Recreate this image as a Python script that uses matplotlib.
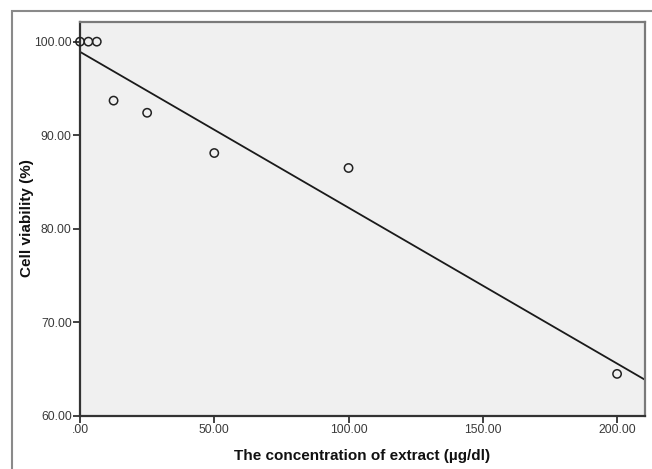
import numpy as np
import matplotlib
matplotlib.use("Agg")
import matplotlib.pyplot as plt
from matplotlib.patches import Rectangle

plt.rcParams['font.family'] = ['Liberation Sans', 'DejaVu Sans']

conc = [0, 3.125, 6.25, 12.5, 25, 50, 100, 200]
viability = [100.0, 100.0, 100.0, 93.7, 92.4, 88.1, 86.5, 64.5]
xticks = [0, 50, 100, 150, 200]
xticklabels = [".00", "50.00", "100.00", "150.00", "200.00"]
yticks = [60, 70, 80, 90, 100]
yticklabels = ["60.00", "70.00", "80.00", "90.00", "100.00"]

fig = plt.figure(figsize=(6.52, 4.69), dpi=100)
fig.patch.set_facecolor('white')
fig.patches.append(Rectangle((12/652, -0.02), 1.0, 1 - 11/469 + 0.02,
                             transform=fig.transFigure, fill=False,
                             edgecolor='#8a8a8a', linewidth=1.5, zorder=0))

ax = fig.add_axes([80/652, 1 - 416/469, (645 - 80)/652, (416 - 22)/469])
ax.set_facecolor('#f0f0f0')

ax.scatter(conc, viability, s=36, facecolors='none', edgecolors='#222222',
           linewidths=1.1, zorder=3, clip_on=False)

xlim = (0, 210.4)
slope, intercept = np.polyfit(conc, viability, 1)
lx = np.array(xlim)
ax.plot(lx, intercept + slope * lx, color='#1a1a1a', linewidth=1.3, zorder=2)

ax.set_xlim(*xlim)
ax.set_ylim(60, 102.1)
ax.set_xticks(xticks)
ax.set_xticklabels(xticklabels)
ax.set_yticks(yticks)
ax.set_yticklabels(yticklabels)
ax.tick_params(direction='out', length=5, width=1.3, color='#333333',
               labelsize=8.7, labelcolor='#3a3a3a', pad=1)

for s in ['left', 'bottom']:
    ax.spines[s].set_color('#333333')
    ax.spines[s].set_linewidth(1.6)
for s in ['top', 'right']:
    ax.spines[s].set_color('#7a7a7a')
    ax.spines[s].set_linewidth(1.6)

ax.set_xlabel("The concentration of extract (\u00b5g/dl)", fontsize=11,
              fontweight='bold', color='#111111', labelpad=9)
ax.set_ylabel("Cell viability (%)", fontsize=11, fontweight='bold',
              color='#111111')
ax.yaxis.set_label_coords((27 - 80) / 565, 0.503)
ax.yaxis.label.set_va('center')

fig.savefig("out.png", dpi=100)
